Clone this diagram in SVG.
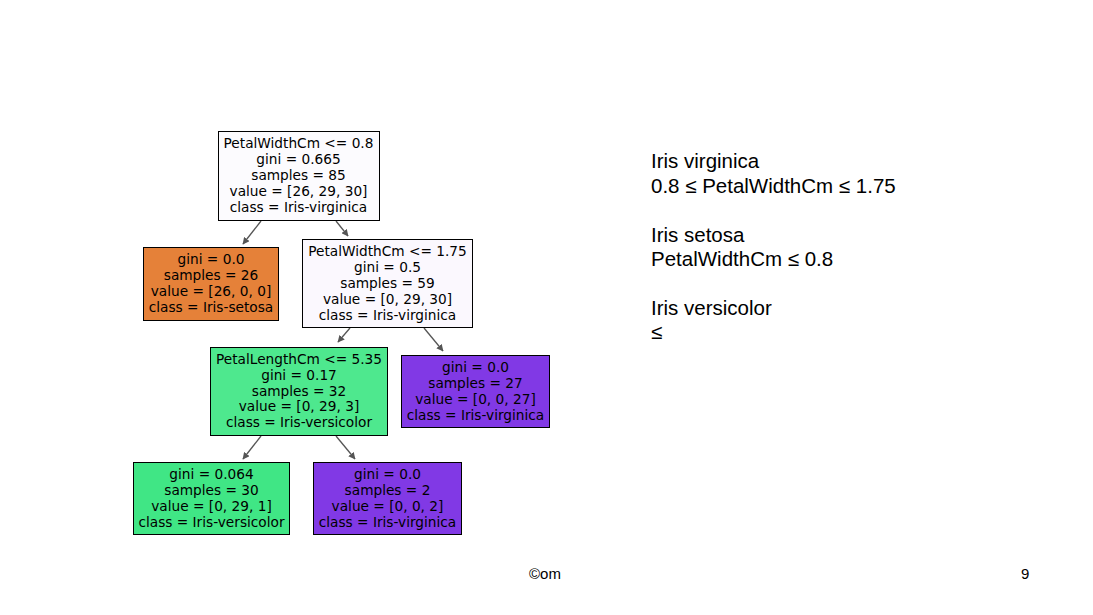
<svg xmlns="http://www.w3.org/2000/svg" width="1093" height="615" viewBox="0 0 1093 615">
<style>
.box{stroke:#000;stroke-width:1}
.t{font-family:"DejaVu Sans",sans-serif;font-size:13.7px;fill:#000;text-anchor:middle}
.e{stroke:#555;stroke-width:1.3;fill:none;marker-end:url(#ah)}
.r{font-family:"Liberation Sans",Arial,sans-serif;font-size:20.5px;fill:#000}
.f{font-family:"Liberation Sans",Arial,sans-serif;font-size:15px;fill:#000}
</style>
<defs>
<marker id="ah" viewBox="0 0 10 10" refX="9" refY="5" markerWidth="7" markerHeight="7" orient="auto" markerUnits="userSpaceOnUse">
<path d="M0,0 L10,5 L0,10 z" fill="#555"/>
</marker>
</defs>
<rect width="1093" height="615" fill="#fff"/>
<g id="connectors">
<line class="e" x1="261" y1="221" x2="243" y2="244"/>
<line class="e" x1="336" y1="221" x2="348" y2="236"/>
<line class="e" x1="350" y1="328" x2="338" y2="342"/>
<line class="e" x1="424" y1="328" x2="443" y2="351"/>
<line class="e" x1="261" y1="436" x2="243" y2="459"/>
<line class="e" x1="336" y1="436" x2="355" y2="459"/>
</g>
<g id="n0">
<rect class="box" x="218.5" y="131.5" width="161" height="89" fill="#fcfbfe"/>
<text class="t" x="298.5" y="148.3">PetalWidthCm &lt;= 0.8</text>
<text class="t" x="298.5" y="164.1">gini = 0.665</text>
<text class="t" x="298.5" y="179.9">samples = 85</text>
<text class="t" x="298.5" y="195.7">value = [26, 29, 30]</text>
<text class="t" x="298.5" y="211.5">class = Iris-virginica</text>
</g>
<g id="n1">
<rect class="box" x="143.5" y="247.5" width="135" height="73" fill="#e58139"/>
<text class="t" x="211" y="264.2">gini = 0.0</text>
<text class="t" x="211" y="280">samples = 26</text>
<text class="t" x="211" y="295.8">value = [26, 0, 0]</text>
<text class="t" x="211" y="311.6">class = Iris-setosa</text>
</g>
<g id="n2">
<rect class="box" x="302.5" y="239.5" width="170" height="88" fill="#fbf8fe"/>
<text class="t" x="387.5" y="256.4">PetalWidthCm &lt;= 1.75</text>
<text class="t" x="387.5" y="272.2">gini = 0.5</text>
<text class="t" x="387.5" y="288">samples = 59</text>
<text class="t" x="387.5" y="303.8">value = [0, 29, 30]</text>
<text class="t" x="387.5" y="319.6">class = Iris-virginica</text>
</g>
<g id="n3">
<rect class="box" x="210.5" y="347.5" width="177" height="88" fill="#4ee88e"/>
<text class="t" x="299" y="364">PetalLengthCm &lt;= 5.35</text>
<text class="t" x="299" y="379.8">gini = 0.17</text>
<text class="t" x="299" y="395.6">samples = 32</text>
<text class="t" x="299" y="411.4">value = [0, 29, 3]</text>
<text class="t" x="299" y="427.2">class = Iris-versicolor</text>
</g>
<g id="n4">
<rect class="box" x="401.5" y="355.5" width="148" height="72" fill="#8139e5"/>
<text class="t" x="475.5" y="372.2">gini = 0.0</text>
<text class="t" x="475.5" y="388">samples = 27</text>
<text class="t" x="475.5" y="403.8">value = [0, 0, 27]</text>
<text class="t" x="475.5" y="419.6">class = Iris-virginica</text>
</g>
<g id="n5">
<rect class="box" x="133.5" y="462.5" width="156" height="72" fill="#40e685"/>
<text class="t" x="211.5" y="479.2">gini = 0.064</text>
<text class="t" x="211.5" y="495">samples = 30</text>
<text class="t" x="211.5" y="510.8">value = [0, 29, 1]</text>
<text class="t" x="211.5" y="526.6">class = Iris-versicolor</text>
</g>
<g id="n6">
<rect class="box" x="313.5" y="462.5" width="148" height="72" fill="#8139e5"/>
<text class="t" x="387.5" y="479.2">gini = 0.0</text>
<text class="t" x="387.5" y="495">samples = 2</text>
<text class="t" x="387.5" y="510.8">value = [0, 0, 2]</text>
<text class="t" x="387.5" y="526.6">class = Iris-virginica</text>
</g>
<g id="notes">
<text class="r" x="651" y="168">Iris virginica</text>
<text class="r" x="651" y="192.5">0.8 ≤ PetalWidthCm ≤ 1.75</text>
<text class="r" x="651" y="241.5">Iris setosa</text>
<text class="r" x="651" y="266">PetalWidthCm ≤ 0.8</text>
<text class="r" x="651" y="315">Iris versicolor</text>
<text class="r" x="651" y="339">≤</text>
</g>
<g id="footer">
<text class="f" x="529" y="579">©om</text>
<text class="f" x="1021" y="579">9</text>
</g>
</svg>
